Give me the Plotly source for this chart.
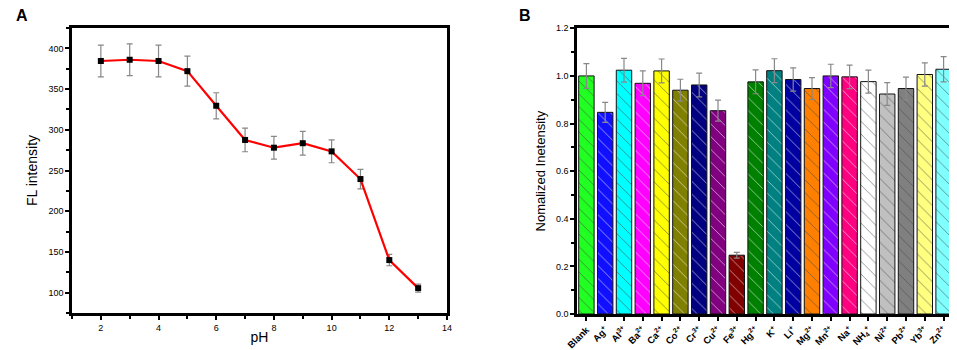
import plotly.graph_objects as go

# Panel A data
ph = [2, 3, 4, 5, 6, 7, 8, 9, 10, 11, 12, 13]
fl_intensity = [384.5, 386, 384.5, 372, 329.5, 287.5, 278, 283.5, 273.5, 239.5, 140, 105.5]
fl_error = [19.5, 19.5, 19.5, 18.5, 16, 14.5, 14, 14.5, 14, 12, 7, 5]

# Panel B data
ions = ["Blank", "Ag<sup>+</sup>", "Al<sup>3+</sup>", "Ba<sup>2+</sup>", "Ca<sup>2+</sup>",
        "Co<sup>2+</sup>", "Cr<sup>3+</sup>", "Cu<sup>2+</sup>", "Fe<sup>3+</sup>", "Hg<sup>2+</sup>",
        "K<sup>+</sup>", "Li<sup>+</sup>", "Mg<sup>2+</sup>", "Mn<sup>2+</sup>", "Na<sup>+</sup>",
        "NH<sub>4</sub><sup>+</sup>", "Ni<sup>2+</sup>", "Pb<sup>2+</sup>", "Yb<sup>3+</sup>", "Zn<sup>2+</sup>"]
norm_intensity = [1.0, 0.847, 1.024, 0.969, 1.021, 0.94, 0.962, 0.854, 0.247, 0.975,
                  1.022, 0.985, 0.947, 1.0, 0.996, 0.976, 0.924, 0.947, 1.006, 1.028]
norm_error = [0.052, 0.042, 0.05, 0.052, 0.05, 0.046, 0.05, 0.044, 0.012, 0.05,
              0.05, 0.049, 0.046, 0.049, 0.049, 0.048, 0.048, 0.048, 0.049, 0.053]
bar_colors = ["#22ff22", "#1010ff", "#00ffff", "#ff00ff", "#ffff00",
              "#808000", "#000080", "#800080", "#800000", "#008000",
              "#008080", "#0000a0", "#ff8000", "#8000ff", "#ff0080",
              "#ffffff", "#c0c0c0", "#808080", "#ffff80", "#80ffff"]

FONT = "Arial, Liberation Sans, sans-serif"

# page body has an 8px default margin: figure sits at (8, 8)
OFF = 8
W, H = 957 - OFF, 350 - OFF


def px(x):
    return (x - OFF) / W


def py(y):
    return 1 - (y - OFF) / H


fig = go.Figure()

fig.add_trace(go.Scatter(
    x=ph, y=fl_intensity, mode="lines+markers",
    line=dict(color="#ff0000", width=2.2),
    marker=dict(symbol="square", size=6, color="black"),
    error_y=dict(type="data", array=fl_error, color="#888888", thickness=1.2, width=3),
    xaxis="x", yaxis="y", showlegend=False,
))

fig.add_trace(go.Bar(
    x=ions, y=norm_intensity,
    marker=dict(color=bar_colors, line=dict(color="#111111", width=1),
                pattern=dict(shape="\\", fillmode="overlay", fgcolor="#000000",
                             fgopacity=0.6, size=9, solidity=0.1)),
    error_y=dict(type="data", array=norm_error, color="#888888", thickness=1.2, width=3),
    xaxis="x2", yaxis="y2", showlegend=False,
))

axis_common = dict(showline=True, linecolor="black", linewidth=2.5, mirror=True,
                   ticks="outside", tickcolor="black", tickwidth=2, ticklen=4,
                   showgrid=False, zeroline=False, automargin=False,
                   tickfont=dict(family=FONT, size=9, color="black"))

fig.update_layout(
    width=W, height=H,
    margin=dict(l=0, r=0, t=0, b=0),
    paper_bgcolor="white", plot_bgcolor="white",
    bargap=0.18,
    xaxis=dict(domain=[px(72), px(447)], anchor="y", range=[1, 14], tickvals=[2, 4, 6, 8, 10, 12, 14],
               minor=dict(ticks="outside", dtick=1, tick0=1, ticklen=3, tickwidth=2, tickcolor="black"),
               title=dict(text="pH", font=dict(family=FONT, size=14, color="black"), standoff=1),
               **axis_common),
    yaxis=dict(domain=[py(313), py(28)], anchor="x", range=[75, 425], tickvals=[100, 150, 200, 250, 300, 350, 400],
               minor=dict(ticks="outside", dtick=25, tick0=75, ticklen=3, tickwidth=2, tickcolor="black"),
               title=dict(text="FL intensity", font=dict(family=FONT, size=14, color="black"), standoff=8),
               **axis_common),
    xaxis2=dict(domain=[px(577), px(953)], anchor="y2", tickangle=-45,
                **{**axis_common, "tickfont": dict(family=FONT, size=9.5, color="black", weight="bold")}),
    yaxis2=dict(domain=[py(314), py(28.3)], anchor="x2", range=[0, 1.2], tickvals=[0, 0.2, 0.4, 0.6, 0.8, 1.0, 1.2],
                tickformat=".1f",
                minor=dict(ticks="outside", dtick=0.1, ticklen=3, tickwidth=2, tickcolor="black"),
                title=dict(text="Nomalized Inetensity", font=dict(family=FONT, size=13, color="black"), standoff=8),
                **axis_common),
    annotations=[
        dict(text="<b>A</b>", x=px(22), y=py(15), xref="paper", yref="paper", showarrow=False,
             xanchor="center", yanchor="middle",
             font=dict(family=FONT, size=16, color="black")),
        dict(text="<b>B</b>", x=px(525), y=py(15), xref="paper", yref="paper", showarrow=False,
             xanchor="center", yanchor="middle",
             font=dict(family=FONT, size=16, color="black")),
    ],
)

fig.write_html("out.html")
